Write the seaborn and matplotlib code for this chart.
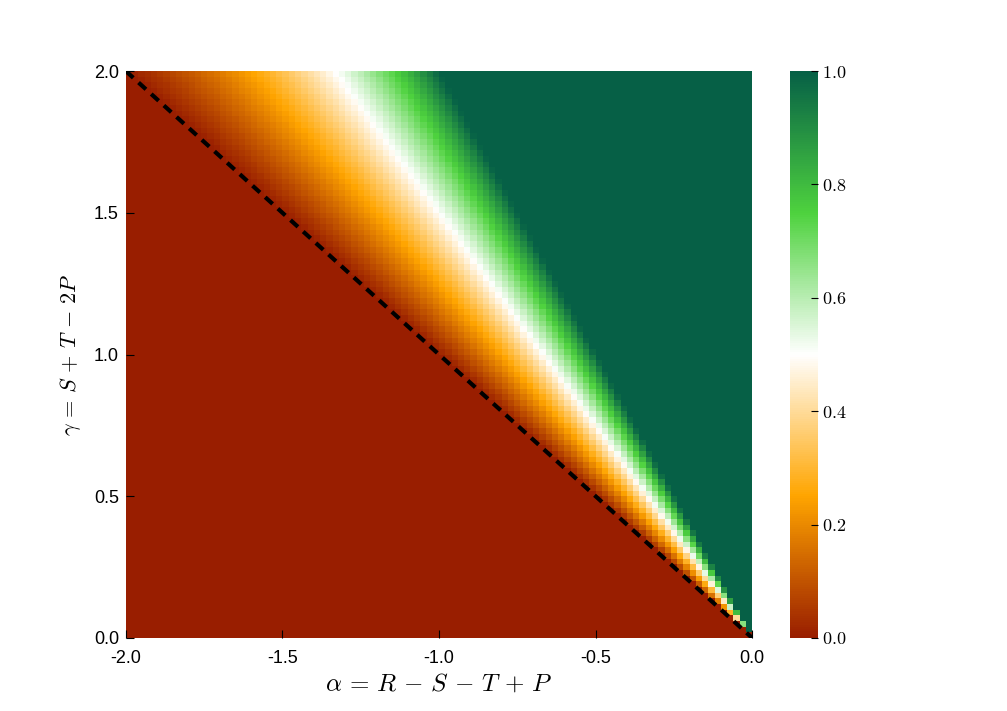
import numpy as np
import pandas as pd
import seaborn as sns
import matplotlib
matplotlib.use("Agg")
import matplotlib.pyplot as plt
from matplotlib.colors import LinearSegmentedColormap
from matplotlib.ticker import FuncFormatter

# ---- data ----
alpha_range = [-2.0, 0.0]          # x axis: alpha = R - S - T + P
gamma_range = [0.0, 2.0]           # y axis: gamma = S + T - 2P
n_cells = 100
x_ticks = [-2.0, -1.5, -1.0, -0.5, 0.0]
y_ticks = [0.0, 0.5, 1.0, 1.5, 2.0]
cbar_ticks = [0.0, 0.2, 0.4, 0.6, 0.8, 1.0]
# colour stops
cmap_stops = [0.0, 0.25, 0.5, 0.75, 1.0]
cmap_colors = ["#991e00", "#ffa500", "#ffffff", "#4ed23e", "#066046"]

# field: value = -gamma/alpha - 1, clipped to [0, 1]
alpha_c = alpha_range[0] + (np.arange(n_cells) + 0.5) * (alpha_range[1] - alpha_range[0]) / n_cells
gamma_c = gamma_range[0] + (np.arange(n_cells) + 0.5) * (gamma_range[1] - gamma_range[0]) / n_cells
A, G = np.meshgrid(alpha_c, gamma_c)
Z = np.clip(-G / A - 1.0, 0.0, 1.0)
df = pd.DataFrame(Z, index=gamma_c, columns=alpha_c)

plt.rcParams["axes.unicode_minus"] = False
plt.rcParams["mathtext.fontset"] = "cm"
plt.rcParams["font.family"] = ["Liberation Sans", "DejaVu Sans"]

cmap = LinearSegmentedColormap.from_list("game", list(zip(cmap_stops, cmap_colors)), N=256)

fig = plt.figure(figsize=(10.07, 7.11), dpi=100)
ax = fig.add_axes([0.125, 0.1027, 0.622, 0.7973])
cax = fig.add_axes([0.7845, 0.1027, 0.0278, 0.7973])

sns.heatmap(df, ax=ax, cbar_ax=cax, cmap=cmap, vmin=0, vmax=1,
            xticklabels=False, yticklabels=False)
ax.invert_yaxis()

def ax_x(a):
    return (a - alpha_range[0]) / (alpha_range[1] - alpha_range[0]) * n_cells

def ax_y(g):
    return (g - gamma_range[0]) / (gamma_range[1] - gamma_range[0]) * n_cells

# dashed line gamma = -alpha
line_a = np.array(alpha_range)
ax.plot(ax_x(line_a), ax_y(-line_a), color="black", lw=3,
        linestyle=(0, (2.4, 1.7)), solid_capstyle="butt", dash_capstyle="butt")

ax.set_xlim(0, n_cells)
ax.set_ylim(0, n_cells)
ax.set_xticks([ax_x(v) for v in x_ticks])
ax.set_xticklabels([f"{v:.1f}" for v in x_ticks], rotation=0)
ax.set_yticks([ax_y(v) for v in y_ticks])
ax.set_yticklabels([f"{v:.1f}" for v in y_ticks], rotation=0)
ax.tick_params(axis="both", direction="in", length=6, width=0.8, labelsize=13,
               color="black", top=False, right=False)
ax.tick_params(axis="x", pad=9)
ax.tick_params(axis="y", pad=5)
ax.set_xlabel(r"$\alpha\,=\,R\,-\,S\,-\,T\,+\,P$", fontsize=18, labelpad=3)
ax.set_ylabel(r"$\gamma\,=\,S\,+\,T\,-\,2P$", fontsize=16, labelpad=8)

cax.yaxis.set_ticks(cbar_ticks)
cax.yaxis.set_major_formatter(FuncFormatter(lambda v, p: r"$%.1f$" % v))
cax.tick_params(axis="y", direction="in", length=5, width=0.8, labelsize=13, pad=3)

fig.savefig("out.png", dpi=100)
